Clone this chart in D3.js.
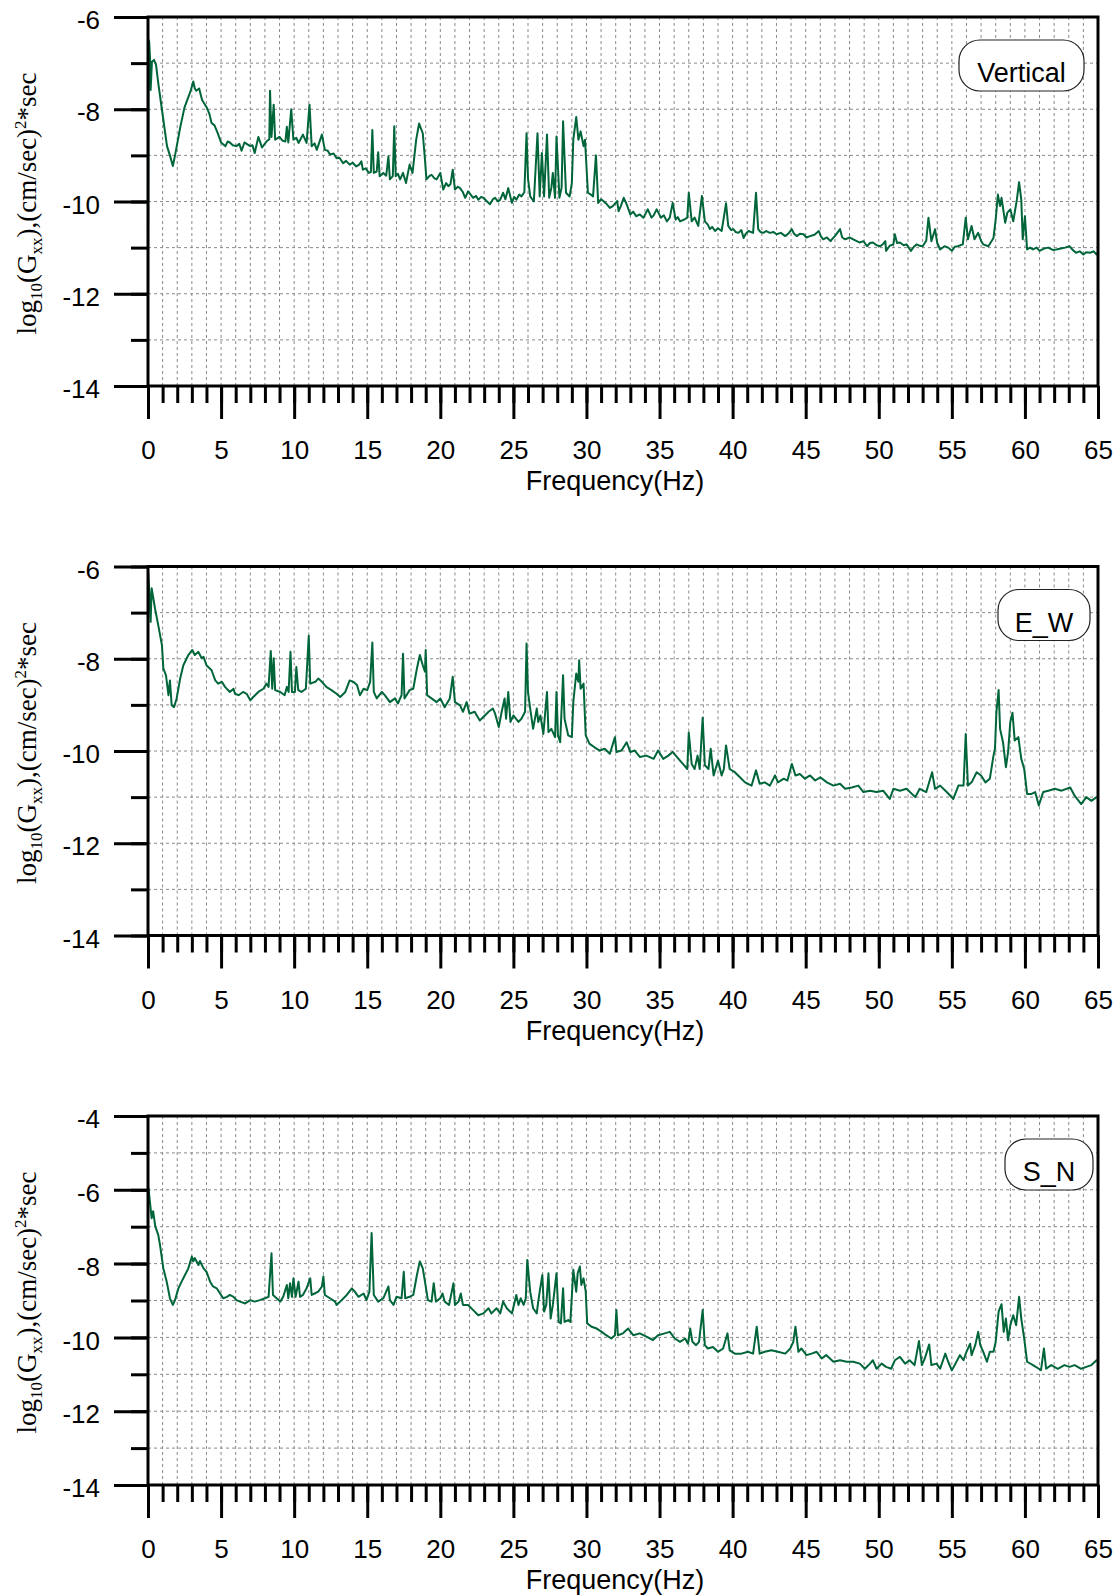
<!DOCTYPE html>
<html>
<head>
<meta charset="utf-8">
<script src="https://d3js.org/d3.v7.min.js"></script>
<style>
  body { margin: 0; background: #fff; }
  svg { display: block; }
  .tick-label { font-family: "Liberation Sans", Arial, sans-serif; font-size: 26px; fill: #000; }
  .grid line { stroke: #8a8a8a; stroke-width: 1; stroke-dasharray: 3,3; }
</style>
</head>
<body>
<script>
var WIDTH = 1120, HEIGHT = 1595;
var LEFT = 148, RIGHT = 1098;
var PANEL_H = 369;
var PANEL_TOPS = [17, 566.5, 1116];

// component labels, y-axis ranges (log10 Gxx)
var components = ['Vertical', 'E_W', 'S_N'];
var yRanges = [[-14, -6], [-14, -6], [-14, -4]];
var freqTicks = d3.range(0, 66, 5);

// spectra: [frequency Hz, log10(Gxx)]
var vertical = [[0,-12.0],[0.04,-6.5],[0.08,-6.53],[0.14,-6.9],[0.18,-7.58],[0.27,-6.97],[0.41,-6.93],[0.55,-7.04],[0.7,-7.43],
  [0.95,-8.0],[1.3,-8.8],[1.5,-9.0],[1.7,-9.23],[1.85,-9.0],[2.2,-8.4],[2.5,-7.96],[2.9,-7.62],[3.1,-7.4],[3.2,-7.55],[3.3,-7.6],
  [3.5,-7.55],[3.7,-7.8],[4.0,-7.95],[4.2,-8.1],[4.35,-8.3],[4.55,-8.35],[4.75,-8.5],[5.0,-8.72],[5.3,-8.8],[5.45,-8.7],[5.6,-8.72],
  [5.8,-8.78],[6.05,-8.8],[6.25,-8.75],[6.4,-8.9],[6.6,-8.72],[6.8,-8.76],[7.0,-8.8],[7.15,-8.78],[7.3,-8.95],[7.55,-8.6],[7.8,-8.83],
  [8.1,-8.7],[8.3,-8.65],[8.35,-7.6],[8.45,-8.6],[8.6,-7.9],[8.7,-8.66],[9.0,-8.6],[9.2,-8.68],[9.4,-8.7],[9.5,-8.38],[9.6,-8.72],
  [9.8,-8.0],[9.95,-8.66],[10.15,-8.62],[10.3,-8.73],[10.6,-8.55],[10.85,-8.73],[11.05,-7.9],[11.2,-8.8],[11.4,-8.74],[11.55,-8.88],
  [11.9,-8.55],[12.1,-8.88],[12.3,-8.9],[12.45,-8.98],[12.7,-8.96],[12.9,-9.06],[13.1,-9.05],[13.35,-9.17],[13.55,-9.12],[13.8,-9.2],
  [14.0,-9.16],[14.25,-9.24],[14.45,-9.2],[14.6,-9.13],[14.7,-9.31],[14.9,-9.28],[15.1,-9.38],[15.25,-9.36],[15.35,-8.45],[15.45,-9.38],
  [15.65,-9.35],[15.75,-8.93],[15.85,-9.45],[16.1,-9.38],[16.3,-9.44],[16.45,-9.02],[16.55,-9.52],[16.75,-9.45],[16.85,-8.37],[16.95,-9.45],
  [17.1,-9.4],[17.25,-9.52],[17.45,-9.38],[17.65,-9.6],[17.9,-9.2],[18.1,-9.38],[18.35,-8.66],[18.55,-8.31],[18.8,-8.52],[18.95,-9.09],
  [19.05,-9.52],[19.25,-9.45],[19.4,-9.42],[19.6,-9.5],[19.75,-9.52],[20.0,-9.38],[20.2,-9.74],[20.4,-9.6],[20.55,-9.67],[20.7,-9.62],
  [20.85,-9.31],[21.0,-9.74],[21.2,-9.68],[21.35,-9.71],[21.55,-9.8],[21.7,-9.92],[21.9,-9.78],[22.1,-9.86],[22.25,-9.92],[22.45,-9.88],
  [22.6,-9.96],[22.8,-9.9],[22.95,-9.92],[23.2,-10.0],[23.4,-10.06],[23.6,-9.95],[23.75,-9.92],[23.95,-10.0],[24.1,-9.96],[24.3,-9.81],
  [24.45,-9.95],[24.65,-9.71],[24.9,-10.03],[25.05,-9.9],[25.2,-9.96],[25.4,-9.85],[25.55,-9.89],[25.75,-9.8],[25.9,-8.52],[26.0,-9.5],
  [26.15,-9.89],[26.4,-10.0],[26.65,-8.52],[26.8,-9.89],[26.95,-8.95],[27.1,-9.89],[27.3,-8.55],[27.45,-9.92],[27.6,-9.7],[27.7,-9.38],
  [27.85,-9.92],[27.95,-8.59],[28.15,-9.92],[28.3,-9.7],[28.4,-8.26],[28.6,-9.81],[28.85,-9.89],[29.0,-9.6],[29.1,-8.66],[29.3,-8.17],
  [29.45,-8.66],[29.6,-8.48],[29.8,-8.8],[29.9,-8.66],[30.1,-9.81],[30.3,-9.85],[30.45,-9.89],[30.65,-9.0],[30.8,-10.03],[31.0,-9.95],
  [31.15,-9.99],[31.4,-10.06],[31.6,-10.14],[31.8,-10.1],[32.1,-9.99],[32.2,-10.21],[32.35,-10.1],[32.55,-9.92],[32.75,-10.06],
  [33.0,-10.28],[33.2,-10.22],[33.4,-10.32],[33.65,-10.28],[33.9,-10.35],[34.2,-10.17],[34.45,-10.35],[34.6,-10.3],[34.8,-10.17],
  [35.1,-10.35],[35.3,-10.3],[35.5,-10.43],[35.7,-10.35],[35.9,-10.03],[36.1,-10.39],[36.25,-10.34],[36.4,-10.43],[36.7,-10.39],
  [36.9,-10.35],[37.0,-9.81],[37.2,-10.43],[37.4,-10.35],[37.65,-10.53],[37.9,-9.88],[38.1,-10.43],[38.3,-10.5],[38.45,-10.6],
  [38.6,-10.55],[38.8,-10.64],[39.0,-10.58],[39.25,-10.64],[39.55,-10.04],[39.7,-10.53],[39.9,-10.62],[40.05,-10.6],[40.2,-10.66],
  [40.4,-10.68],[40.6,-10.62],[40.75,-10.79],[40.9,-10.7],[41.1,-10.64],[41.4,-10.68],[41.6,-9.81],[41.75,-10.6],[41.9,-10.66],
  [42.1,-10.68],[42.3,-10.64],[42.55,-10.68],[42.8,-10.66],[43.0,-10.71],[43.3,-10.68],[43.6,-10.75],[43.8,-10.7],[44.05,-10.6],
  [44.2,-10.7],[44.4,-10.75],[44.6,-10.7],[44.85,-10.71],[45.05,-10.78],[45.3,-10.75],[45.6,-10.72],[45.9,-10.64],[46.05,-10.76],
  [46.2,-10.82],[46.45,-10.78],[46.7,-10.86],[46.85,-10.8],[47.0,-10.75],[47.35,-10.6],[47.5,-10.78],[47.7,-10.82],[48.0,-10.78],
  [48.25,-10.82],[48.5,-10.86],[48.7,-10.89],[48.95,-10.86],[49.2,-10.97],[49.4,-10.9],[49.6,-10.89],[49.85,-10.95],[50.1,-10.97],
  [50.3,-10.92],[50.45,-10.86],[50.5,-11.07],[50.75,-10.96],[51.0,-10.93],[51.1,-10.71],[51.25,-10.9],[51.45,-10.89],[51.7,-10.95],
  [51.9,-10.93],[52.2,-11.07],[52.4,-10.98],[52.6,-10.93],[52.8,-10.96],[53.0,-10.97],[53.25,-10.85],[53.4,-10.35],[53.6,-10.86],
  [53.85,-10.6],[54.0,-10.9],[54.2,-11.04],[54.5,-10.97],[54.75,-11.0],[55.0,-11.07],[55.2,-10.98],[55.4,-10.97],[55.75,-10.93],
  [55.95,-10.35],[56.1,-10.82],[56.35,-10.53],[56.55,-10.82],[56.8,-10.68],[57.0,-10.85],[57.15,-10.93],[57.5,-10.97],[57.85,-10.79],
  [58.0,-10.39],[58.15,-9.85],[58.3,-10.1],[58.4,-9.92],[58.65,-10.46],[58.8,-10.24],[59.0,-10.17],[59.2,-10.43],[59.45,-9.96],
  [59.6,-9.58],[59.75,-9.96],[59.85,-10.82],[60.0,-10.32],[60.15,-11.04],[60.35,-11.0],[60.55,-11.04],[60.8,-11.0],[61.0,-11.07],
  [61.3,-11.02],[61.6,-11.0],[61.9,-11.05],[62.15,-11.04],[62.45,-11.02],[62.75,-11.0],[63.05,-10.97],[63.3,-11.06],[63.5,-11.11],
  [63.75,-11.08],[64.0,-11.15],[64.2,-11.1],[64.45,-11.11],[64.7,-11.08],[64.9,-11.15],[65,-11.1]];

var eastWest = [[0,-6.07],[0.1,-6.6],[0.18,-7.2],[0.25,-6.47],[0.48,-6.91],[0.7,-7.27],[0.95,-7.7],[1.05,-8.21],[1.23,-8.36],[1.4,-8.79],
  [1.5,-8.47],[1.62,-9.01],[1.78,-9.05],[1.96,-8.86],[2.2,-8.43],[2.42,-8.14],[2.76,-7.92],[3.03,-7.81],[3.2,-7.92],[3.45,-7.85],
  [3.67,-7.99],[3.8,-7.96],[4.0,-8.14],[4.35,-8.25],[4.6,-8.47],[4.8,-8.54],[5.05,-8.5],[5.27,-8.61],[5.6,-8.72],[5.85,-8.65],
  [5.95,-8.76],[6.2,-8.79],[6.5,-8.72],[6.75,-8.76],[7.0,-8.9],[7.2,-8.83],[7.55,-8.72],[7.9,-8.65],[8.1,-8.54],[8.25,-8.61],
  [8.4,-7.83],[8.5,-8.65],[8.6,-7.99],[8.7,-8.68],[9.05,-8.72],[9.35,-8.79],[9.5,-8.61],[9.62,-8.72],[9.75,-7.85],[9.85,-8.72],
  [10.05,-8.72],[10.15,-8.18],[10.28,-8.68],[10.5,-8.72],[10.8,-8.65],[11.0,-7.5],[11.1,-8.54],[11.45,-8.5],[11.65,-8.43],[11.9,-8.5],
  [12.2,-8.61],[12.55,-8.68],[12.9,-8.76],[13.15,-8.83],[13.5,-8.72],[13.8,-8.47],[14.05,-8.5],[14.3,-8.57],[14.5,-8.79],[14.75,-8.65],
  [15.0,-8.68],[15.2,-8.5],[15.35,-7.65],[15.45,-8.72],[15.65,-8.86],[16.0,-8.72],[16.2,-8.79],[16.55,-8.94],[16.9,-8.86],[17.1,-8.97],
  [17.35,-8.79],[17.45,-7.89],[17.55,-8.86],[17.9,-8.68],[18.15,-8.65],[18.4,-8.21],[18.6,-7.92],[18.8,-8.14],[18.95,-8.28],[19.0,-7.81],
  [19.1,-8.79],[19.4,-8.86],[19.75,-8.94],[20.0,-8.86],[20.3,-9.05],[20.65,-8.86],[20.85,-8.39],[21.0,-8.94],[21.35,-9.01],[21.55,-9.15],
  [21.8,-8.94],[22.0,-9.19],[22.35,-9.15],[22.7,-9.34],[23.05,-9.23],[23.3,-9.15],[23.6,-9.08],[23.75,-9.19],[24.0,-9.48],[24.2,-9.15],
  [24.4,-8.86],[24.5,-9.3],[24.65,-8.72],[24.8,-9.37],[25.0,-9.23],[25.35,-9.37],[25.55,-9.3],[25.8,-9.15],[25.9,-7.67],[26.0,-8.72],
  [26.15,-9.08],[26.35,-9.52],[26.6,-9.08],[26.7,-9.37],[26.85,-9.23],[27.05,-9.63],[27.3,-8.72],[27.4,-9.59],[27.6,-9.52],[27.85,-9.7],
  [27.95,-8.72],[28.05,-9.66],[28.2,-9.81],[28.4,-8.36],[28.5,-9.3],[28.75,-9.66],[29.0,-9.7],[29.1,-8.94],[29.3,-8.32],[29.45,-8.5],
  [29.5,-8.03],[29.6,-8.65],[29.8,-8.54],[29.95,-9.66],[30.2,-9.84],[30.55,-9.92],[30.9,-9.99],[31.25,-9.95],[31.6,-10.06],[31.95,-9.7],
  [32.05,-10.02],[32.4,-9.99],[32.75,-9.81],[33.0,-10.02],[33.3,-9.99],[33.65,-10.13],[34.1,-10.1],[34.6,-10.17],[34.9,-9.99],
  [35.25,-10.17],[35.6,-10.1],[35.9,-10.02],[36.3,-10.17],[36.6,-10.28],[36.9,-10.39],[37.0,-9.6],[37.2,-10.28],[37.4,-10.39],
  [37.6,-10.1],[37.75,-10.39],[37.95,-9.28],[38.1,-10.31],[38.35,-10.39],[38.5,-9.95],[38.7,-10.53],[39.0,-10.21],[39.25,-10.53],
  [39.4,-10.39],[39.55,-9.88],[39.8,-10.39],[40.15,-10.46],[40.5,-10.57],[40.85,-10.68],[41.3,-10.75],[41.6,-10.42],[41.85,-10.71],
  [42.2,-10.68],[42.55,-10.75],[42.9,-10.53],[43.1,-10.68],[43.5,-10.6],[43.75,-10.64],[44.05,-10.28],[44.3,-10.53],[44.6,-10.5],
  [44.95,-10.6],[45.3,-10.53],[45.65,-10.64],[46.0,-10.57],[46.45,-10.68],[46.9,-10.75],[47.35,-10.71],[47.7,-10.82],[48.15,-10.79],
  [48.6,-10.75],[48.95,-10.89],[49.4,-10.86],[49.85,-10.89],[50.3,-10.86],[50.75,-11.04],[51.0,-10.82],[51.45,-10.86],[51.9,-10.82],
  [52.5,-11.0],[52.8,-10.82],[53.25,-10.89],[53.65,-10.46],[53.85,-10.82],[54.2,-10.75],[54.65,-10.89],[55.1,-11.04],[55.45,-10.75],
  [55.8,-10.75],[55.95,-9.63],[56.1,-10.75],[56.35,-10.68],[56.7,-10.46],[57.0,-10.53],[57.3,-10.68],[57.6,-10.6],[57.85,-10.1],
  [57.95,-9.95],[58.05,-9.15],[58.2,-8.68],[58.3,-9.52],[58.5,-9.81],[58.7,-10.35],[58.85,-10.02],[59.0,-9.37],[59.15,-9.17],
  [59.3,-9.77],[59.55,-9.7],[59.75,-10.17],[59.95,-10.39],[60.15,-10.93],[60.45,-10.93],[60.7,-10.89],[60.95,-11.18],[61.25,-10.89],
  [61.6,-10.86],[62.05,-10.82],[62.5,-10.86],[63.1,-10.79],[63.4,-10.97],[63.85,-11.15],[64.2,-11.0],[64.55,-11.08],[64.9,-11.0],[65,-11.0]];

var southNorth = [[0.03,-5.95],[0.25,-6.77],[0.35,-6.58],[0.5,-6.99],[0.7,-7.22],[0.82,-7.49],[1.05,-8.13],[1.28,-8.49],[1.5,-8.94],
  [1.7,-9.12],[1.85,-8.99],[2.08,-8.67],[2.3,-8.49],[2.53,-8.31],[2.76,-8.13],[3.0,-7.81],[3.1,-7.94],[3.2,-7.85],[3.45,-8.04],
  [3.55,-7.93],[3.8,-8.13],[4.0,-8.22],[4.25,-8.49],[4.45,-8.62],[4.7,-8.67],[4.93,-8.81],[5.15,-8.94],[5.4,-8.9],[5.6,-8.85],
  [5.85,-8.9],[6.05,-8.99],[6.3,-9.03],[6.65,-9.08],[7.0,-8.99],[7.3,-9.03],[7.65,-8.99],[8.0,-8.94],[8.25,-8.9],[8.45,-7.72],
  [8.55,-8.85],[8.8,-8.94],[9.05,-9.03],[9.25,-8.9],[9.5,-8.58],[9.6,-8.94],[9.72,-8.53],[9.85,-8.9],[9.95,-8.4],[10.1,-8.9],
  [10.3,-8.49],[10.4,-8.9],[10.6,-8.85],[10.85,-8.67],[11.1,-8.4],[11.2,-8.85],[11.4,-8.81],[11.65,-8.76],[11.9,-8.62],[12.0,-8.35],
  [12.1,-8.85],[12.45,-8.94],[12.8,-9.03],[12.9,-9.12],[13.25,-8.99],[13.6,-8.85],[13.95,-8.67],[14.15,-8.76],[14.4,-8.9],
  [14.75,-8.81],[14.95,-8.99],[15.15,-8.76],[15.3,-7.17],[15.45,-8.85],[15.75,-9.03],[16.1,-8.94],[16.45,-8.62],[16.55,-8.99],
  [16.8,-9.12],[17.0,-8.9],[17.35,-8.94],[17.5,-8.22],[17.6,-8.94],[17.9,-8.9],[18.15,-8.85],[18.4,-8.31],[18.6,-7.94],[18.8,-8.13],
  [18.95,-8.49],[19.15,-8.99],[19.4,-9.03],[19.55,-8.53],[19.7,-9.03],[20.0,-8.94],[20.15,-8.81],[20.3,-9.03],[20.6,-9.12],
  [20.9,-8.53],[21.0,-9.12],[21.25,-9.03],[21.4,-8.81],[21.55,-9.12],[21.9,-9.12],[22.25,-9.26],[22.6,-9.4],[22.95,-9.35],
  [23.3,-9.21],[23.5,-9.35],[23.85,-9.21],[24.1,-9.35],[24.3,-9.03],[24.55,-9.21],[24.9,-9.35],[25.2,-8.85],[25.35,-9.12],
  [25.5,-8.94],[25.7,-9.12],[25.85,-8.94],[25.95,-7.9],[26.15,-8.76],[26.35,-9.21],[26.6,-9.35],[26.7,-9.03],[26.8,-8.76],
  [26.98,-8.31],[27.1,-9.3],[27.25,-9.12],[27.4,-8.26],[27.55,-9.49],[27.7,-9.12],[27.95,-8.26],[28.1,-9.58],[28.25,-9.62],
  [28.4,-8.67],[28.5,-9.58],[28.75,-9.53],[28.9,-9.58],[29.1,-8.17],[29.3,-8.76],[29.4,-8.26],[29.55,-8.08],[29.65,-8.58],
  [29.8,-8.4],[29.95,-8.76],[30.05,-9.62],[30.35,-9.71],[30.7,-9.76],[31.05,-9.85],[31.35,-9.94],[31.7,-10.03],[31.95,-9.94],
  [32.05,-9.26],[32.15,-9.94],[32.5,-9.89],[32.85,-9.76],[33.2,-9.94],[33.65,-9.89],[34.1,-9.98],[34.55,-10.07],[34.9,-9.94],
  [35.35,-9.89],[35.7,-9.85],[36.05,-10.03],[36.4,-10.12],[36.75,-10.03],[36.95,-10.17],[37.1,-9.76],[37.25,-10.12],[37.5,-10.21],
  [37.7,-10.12],[37.95,-9.26],[38.1,-10.21],[38.3,-10.3],[38.65,-10.26],[39.0,-10.39],[39.35,-10.3],[39.65,-9.89],[39.8,-10.35],
  [40.15,-10.44],[40.6,-10.44],[41.05,-10.39],[41.4,-10.44],[41.65,-9.71],[41.85,-10.44],[42.2,-10.39],[42.65,-10.35],[43.1,-10.39],
  [43.6,-10.44],[43.95,-10.3],[44.15,-10.12],[44.3,-9.71],[44.5,-10.39],[44.7,-10.3],[45.05,-10.48],[45.4,-10.44],[45.75,-10.39],
  [46.1,-10.57],[46.4,-10.48],[46.9,-10.66],[47.35,-10.62],[47.8,-10.66],[48.25,-10.66],[48.7,-10.71],[49.05,-10.85],[49.4,-10.71],
  [49.6,-10.62],[49.85,-10.85],[50.2,-10.71],[50.5,-10.8],[50.85,-10.85],[51.1,-10.62],[51.45,-10.53],[51.8,-10.71],[52.1,-10.62],
  [52.45,-10.75],[52.75,-10.1],[52.95,-10.75],[53.15,-10.57],[53.45,-10.19],[53.6,-10.75],[53.95,-10.71],[54.2,-10.85],[54.55,-10.44],
  [54.75,-10.66],[55.0,-10.89],[55.2,-10.75],[55.55,-10.48],[55.8,-10.62],[56.0,-10.39],[56.25,-10.17],[56.35,-10.48],[56.6,-10.21],
  [56.8,-9.85],[56.95,-10.21],[57.15,-10.39],[57.4,-10.66],[57.6,-10.39],[57.85,-10.39],[58.0,-10.12],[58.2,-9.3],[58.4,-9.1],
  [58.55,-9.85],[58.7,-9.49],[58.85,-10.08],[59.0,-9.67],[59.2,-9.4],[59.4,-9.67],[59.6,-8.9],[59.75,-9.49],[59.95,-10.03],
  [60.15,-10.66],[60.55,-10.75],[60.95,-10.85],[61.1,-10.89],[61.3,-10.3],[61.45,-10.85],[61.8,-10.75],[62.25,-10.85],[62.7,-10.75],
  [63.05,-10.8],[63.4,-10.75],[63.85,-10.85],[64.2,-10.8],[64.55,-10.75],[64.9,-10.62],[65,-10.6]];

var series = [vertical, eastWest, southNorth];
// label boxes [x0, x1] in page px
var boxX = [[959, 1084], [998, 1090], [1005, 1093]];

var svg = d3.select('body').append('svg')
  .attr('width', WIDTH)
  .attr('height', HEIGHT);

var x = d3.scaleLinear().domain([0, 65]).range([LEFT, RIGHT]);
var plainNum = function (d) { return String(d); }; // hyphen minus, like the original

series.forEach(function (data, i) {
  var top = PANEL_TOPS[i];
  var bottom = top + PANEL_H;
  var y = d3.scaleLinear().domain(yRanges[i]).range([bottom, top]);
  var g = svg.append('g');

  // dotted grid, every 1 Hz and every 1 decade
  var grid = g.append('g').attr('class', 'grid');
  grid.selectAll('line.v')
    .data(d3.range(1, 65))
    .enter().append('line')
    .attr('x1', x).attr('x2', x)
    .attr('y1', top).attr('y2', bottom);
  grid.selectAll('line.h')
    .data(d3.range(yRanges[i][0] + 1, yRanges[i][1]))
    .enter().append('line')
    .attr('x1', LEFT).attr('x2', RIGHT)
    .attr('y1', y).attr('y2', y);

  // label box
  var bx = boxX[i];
  g.append('rect')
    .attr('x', bx[0]).attr('y', top + 23)
    .attr('width', bx[1] - bx[0]).attr('height', 51)
    .attr('rx', 21).attr('ry', 21)
    .attr('fill', '#fff')
    .attr('stroke', '#222')
    .attr('stroke-width', 1.2);
  g.append('text')
    .attr('x', (bx[0] + bx[1]) / 2)
    .attr('y', top + 65)
    .attr('text-anchor', 'middle')
    .style('font-family', '"Liberation Sans", Arial, sans-serif')
    .style('font-size', '27px')
    .text(components[i]);

  // spectrum
  var line = d3.line()
    .x(function (d) { return x(d[0]); })
    .y(function (d) { return y(d[1]); });
  g.append('path')
    .datum(data)
    .attr('d', line)
    .attr('fill', 'none')
    .attr('stroke', '#00663a')
    .attr('stroke-width', 2)
    .attr('stroke-linejoin', 'round');

  // x axis: minor ticks each Hz, major each 5 Hz
  var xMinor = g.append('g')
    .attr('transform', 'translate(0,' + bottom + ')')
    .call(d3.axisBottom(x).tickValues(d3.range(0, 66)).tickSize(17).tickFormat(''));
  var xMajor = g.append('g')
    .attr('transform', 'translate(0,' + bottom + ')')
    .call(d3.axisBottom(x).tickValues(freqTicks).tickSize(33).tickFormat(plainNum));
  xMajor.selectAll('text')
    .attr('class', 'tick-label')
    .attr('y', 73).attr('dy', null);

  // y axis: major at even, minor at odd
  var yMinor = g.append('g')
    .attr('transform', 'translate(' + LEFT + ',0)')
    .call(d3.axisLeft(y).tickValues(d3.range(yRanges[i][0], yRanges[i][1] + 1)).tickSize(17).tickFormat(''));
  var yMajor = g.append('g')
    .attr('transform', 'translate(' + LEFT + ',0)')
    .call(d3.axisLeft(y).tickValues(d3.range(yRanges[i][0], yRanges[i][1] + 1, 2)).tickSize(34).tickFormat(plainNum));
  yMajor.selectAll('text')
    .attr('class', 'tick-label')
    .attr('x', -48).attr('dy', '0.45em');

  [xMinor, xMajor, yMinor, yMajor].forEach(function (a) {
    a.select('.domain').remove();
    a.selectAll('line').attr('stroke', '#000').attr('stroke-width', 3);
  });

  // frame
  g.append('rect')
    .attr('x', LEFT).attr('y', top)
    .attr('width', RIGHT - LEFT).attr('height', PANEL_H)
    .attr('fill', 'none')
    .attr('stroke', '#000')
    .attr('stroke-width', 3);

  // axis titles
  g.append('text')
    .attr('x', 615).attr('y', bottom + 104)
    .attr('text-anchor', 'middle')
    .style('font-family', '"Liberation Sans", Arial, sans-serif')
    .style('font-size', '27px')
    .text('Frequency(Hz)');

  var yt = g.append('text')
    .attr('transform', 'translate(36,' + (top + PANEL_H / 2 + 2) + ') rotate(-90)')
    .attr('text-anchor', 'middle')
    .style('font-family', '"Liberation Serif", "Times New Roman", serif')
    .style('font-size', '27px');
  yt.append('tspan').text('log');
  yt.append('tspan').attr('dy', 6).style('font-size', '17px').text('10');
  yt.append('tspan').attr('dy', -6).text('(G');
  yt.append('tspan').attr('dy', 6).style('font-size', '17px').text('xx');
  yt.append('tspan').attr('dy', -6).text('),(cm/sec)');
  yt.append('tspan').attr('dy', -10).style('font-size', '17px').text('2');
  yt.append('tspan').attr('dy', 10).text('*sec');
});
</script>
</body>
</html>
